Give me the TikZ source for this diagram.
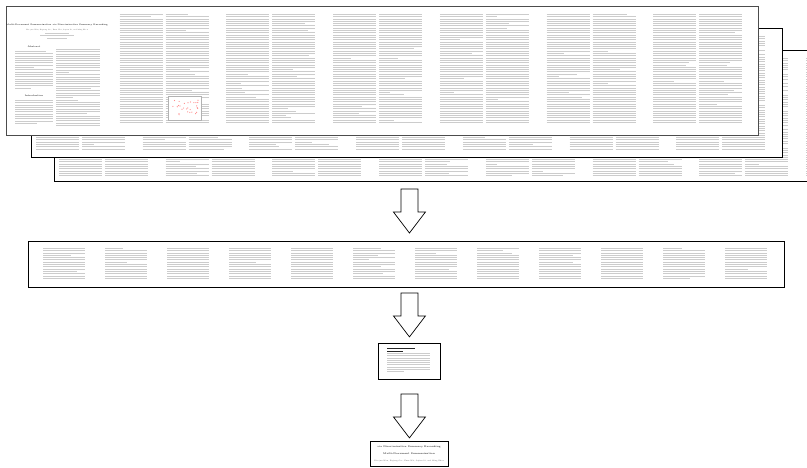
\documentclass[tikz,border=0pt]{standalone}
\usepackage{tikz}
\usetikzlibrary{positioning,calc}

\tikzset{
  textline/.style={gray!40,line width=0.75pt},
  headline/.style={gray!30!black,line width=0.8pt},
  sheet/.style={draw=black,line width=0.9pt,fill=white,rectangle,inner sep=0pt,anchor=north west},
  frontsheet/.style={sheet,draw=black!70,line width=1.4pt},
  tinytext/.style={inner sep=0pt,text=black!70,font=\fontsize{#1}{#1}\selectfont},
  boldtext/.style={inner sep=0pt,text=black!80,font=\fontsize{#1}{#1}\selectfont\bfseries},
  blockarrow/.pic={\draw[black,line width=0.7pt,fill=white] (-8.5,0) -- (-8.5,23) -- (-16,23) -- (0,44) -- (16,23) -- (8.5,23) -- (8.5,0) -- cycle;}
}

% one column of text rows: x, y, width, rows
\newcommand{\textcol}[4]{%
  \foreach \r in {1,...,#4}{%
    \pgfmathsetmacro\linelen{rnd>0.86 ? (0.25+0.6*rnd)*#3 : #3}
    \draw[textline] (#1,#2+2.3*\r) -- ++(\linelen,0);
  }}
% a two column page: x, y, rows
\newcommand{\paperpage}[3]{\textcol{#1}{#2}{43}{#3}\textcol{#1+46}{#2}{43}{#3}}

\begin{document}
\begin{tikzpicture}[x=1pt,y=-1pt]
\pgfmathsetseed{7}
\useasboundingbox (0,0) rectangle (807,467);
\clip (0,0) rectangle (807,467);

% stack of documents
\node[sheet,minimum width=776pt,minimum height=131pt] (sheetc) at (54,50) {};
\begin{scope}
\clip (sheetc.north west) rectangle (sheetc.south east);
\foreach \k in {0,...,7} \paperpage{59+106.7*\k}{56}{52};
\end{scope}
\node[sheet,minimum width=751pt,minimum height=129pt] (sheetb) at (31,28) {};
\begin{scope}
\clip (sheetb.north west) rectangle (sheetb.south east);
\foreach \k in {0,...,7} \paperpage{36+106.7*\k}{34}{50};
\end{scope}
\node[frontsheet,minimum width=752pt,minimum height=129pt] (sheeta) at (6,6) {};

% first page with title
\node[boldtext=2.1] (title) at (57,25) {Multi-Document Summarization via Discriminative Summary Reranking};
\node[tinytext=1.6] (authors) at (57,30) {Xiaojun Wan, Ziqiang Cao, Furu Wei, Sujian Li, and Ming Zhou};
\draw[textline] (45,33) -- ++(24,0) (40,35.5) -- ++(34,0) (47,38) -- ++(20,0);
\node[boldtext=2.2] (abstract) at (34,47) {Abstract};
\textcol{15}{49}{38}{17}
\node[boldtext=2.2] (intro) at (34,96) {Introduction};
\textcol{15}{98}{38}{11}
\textcol{56}{47}{44}{34}
\foreach \k in {1,...,6} \paperpage{13+106.7*\k}{12}{48};
% figure on the second page
\draw[gray!60,fill=white] (168,96) rectangle (201,120);
\foreach \i in {1,...,28} \fill[red!45] (171+27*rnd,100+15*rnd) circle (0.6);

% pages cut into segments
\node[sheet,minimum width=756pt,minimum height=46pt] (strip) at (28,241) {};
\foreach \k in {0,...,11} \textcol{43+62*\k}{246}{42}{14};

% selected segment
\node[sheet,minimum width=62pt,minimum height=36pt] (section) at (378,343) {};
\draw[headline] (387,348) -- ++(28,0) (387,351) -- ++(16,0);
\textcol{387}{351}{43}{9}

% recovered header
\node[sheet,minimum width=78pt,minimum height=25pt] (header) at (370,441) {};
\node[boldtext=2.4] (linea) at (409,447) {via Discriminative Summary Reranking};
\node[boldtext=2.4] (lineb) at (409,454) {Multi-Document Summarization};
\node[tinytext=1.8] (linec) at (409,461) {Xiaojun Wan, Ziqiang Cao, Furu Wei, Sujian Li, and Ming Zhou};

\pic at ($(strip.north -| header.north)+(0,-52)$) {blockarrow};
\pic at ($(strip.south -| header.north)+(0,5)$) {blockarrow};
\pic at ($(section.south -| header.north)+(0,14)$) {blockarrow};
\end{tikzpicture}
\end{document}
